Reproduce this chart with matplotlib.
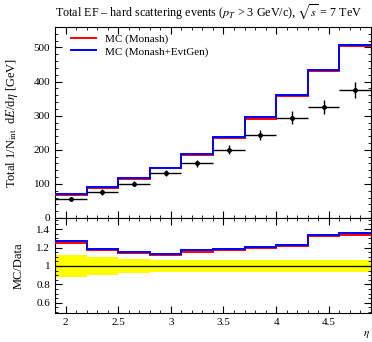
import numpy as np
import matplotlib
matplotlib.use("Agg")
import matplotlib.pyplot as plt
from matplotlib.ticker import MultipleLocator

plt.rcParams["font.family"] = ["Liberation Serif", "DejaVu Serif"]
plt.rcParams["mathtext.fontset"] = "stix"

# eta bins
edges = [1.9, 2.2, 2.5, 2.8, 3.1, 3.4, 3.7, 4.0, 4.3, 4.6, 4.9]
data = [55, 76, 101, 131, 161, 200, 244, 294, 326, 376]
data_rel_err = [0.115, 0.1, 0.08, 0.065, 0.063, 0.063, 0.063, 0.063, 0.063, 0.063]
mc_monash = [68.5, 88.9, 114.8, 146.1, 186.0, 234.0, 291.6, 357.2, 430.3, 503.8]
mc_evtgen = [69.7, 90.0, 116.2, 147.5, 188.4, 236.8, 295.2, 361.6, 435.2, 508.7]

edges = np.array(edges)
centers = 0.5 * (edges[1:] + edges[:-1])
halfw = 0.5 * np.diff(edges)
data = np.array(data, dtype=float)
rel = np.array(data_rel_err)
mc1 = np.array(mc_monash, dtype=float)
mc2 = np.array(mc_evtgen, dtype=float)

fig = plt.figure(figsize=(3.72, 3.42), dpi=100)
ax = fig.add_axes([0.148, 0.3626, 0.849, 0.5584])
rx = fig.add_axes([0.148, 0.0848, 0.849, 0.2778], sharex=ax)


def style(a):
    a.tick_params(which="both", direction="in", top=True, right=True, labelsize=8)
    a.tick_params(which="major", length=5, width=0.8)
    a.tick_params(which="minor", length=2.5, width=0.6)
    for s in a.spines.values():
        s.set_linewidth(0.8)


ax.stairs(mc1, edges, color="red", lw=1.4, baseline=None, zorder=3)
ax.stairs(mc2, edges, color="blue", lw=1.4, baseline=None, zorder=4)
ax.errorbar(centers, data, xerr=halfw, yerr=rel * data, fmt="o", ms=2.5,
            color="black", elinewidth=1.0, capsize=0, zorder=5)
ax.plot([], [], color="red", lw=1.4, label="MC (Monash)")
ax.plot([], [], color="blue", lw=1.4, label="MC (Monash+EvtGen)")
ax.legend(loc="upper left", frameon=False, fontsize=8, handlelength=2.2,
          borderaxespad=0.2, labelspacing=0.25, bbox_to_anchor=(0.03, 1.0))
ax.set_xlim(1.9, 4.9)
ax.set_ylim(0, 560)
ax.yaxis.set_major_locator(MultipleLocator(100))
ax.yaxis.set_minor_locator(MultipleLocator(20))
ax.xaxis.set_major_locator(MultipleLocator(0.5))
ax.xaxis.set_minor_locator(MultipleLocator(0.1))
plt.setp(ax.get_xticklabels(), visible=False)
style(ax)
ax.set_ylabel(r"Total 1/N$_{\rm int}$  d$E$/d$\eta$ [GeV]", fontsize=9)
ax.yaxis.set_label_coords(-0.11, 0.5)
fig.text(0.148, 0.965, r"Total EF – hard scattering events ($p_T$ > 3 GeV/c), $\sqrt{s}$ = 7 TeV",
         fontsize=8.7, ha="left", va="center")

rx.stairs(1 + rel, edges, baseline=1 - rel, fill=True, color="yellow", zorder=1)
rx.axhline(1.0, color="black", lw=0.9, zorder=2)
rx.stairs(mc1 / data, edges, color="red", lw=1.4, baseline=None, zorder=3)
rx.stairs(mc2 / data, edges, color="blue", lw=1.4, baseline=None, zorder=4)
rx.set_ylim(0.49, 1.52)
rx.set_yticks([0.6, 0.8, 1.0, 1.2, 1.4])
rx.set_yticklabels(["0.6", "0.8", "1", "1.2", "1.4"])
rx.yaxis.set_minor_locator(MultipleLocator(0.05))
rx.set_xticks([2, 2.5, 3, 3.5, 4, 4.5])
rx.set_xticklabels(["2", "2.5", "3", "3.5", "4", "4.5"])
style(rx)
rx.set_ylabel("MC/Data", fontsize=9)
rx.yaxis.set_label_coords(-0.095, 0.5)
fig.text(0.995, 0.005, r"$\eta$", fontsize=8, ha="right", va="bottom")

fig.savefig("out.png", dpi=100)
